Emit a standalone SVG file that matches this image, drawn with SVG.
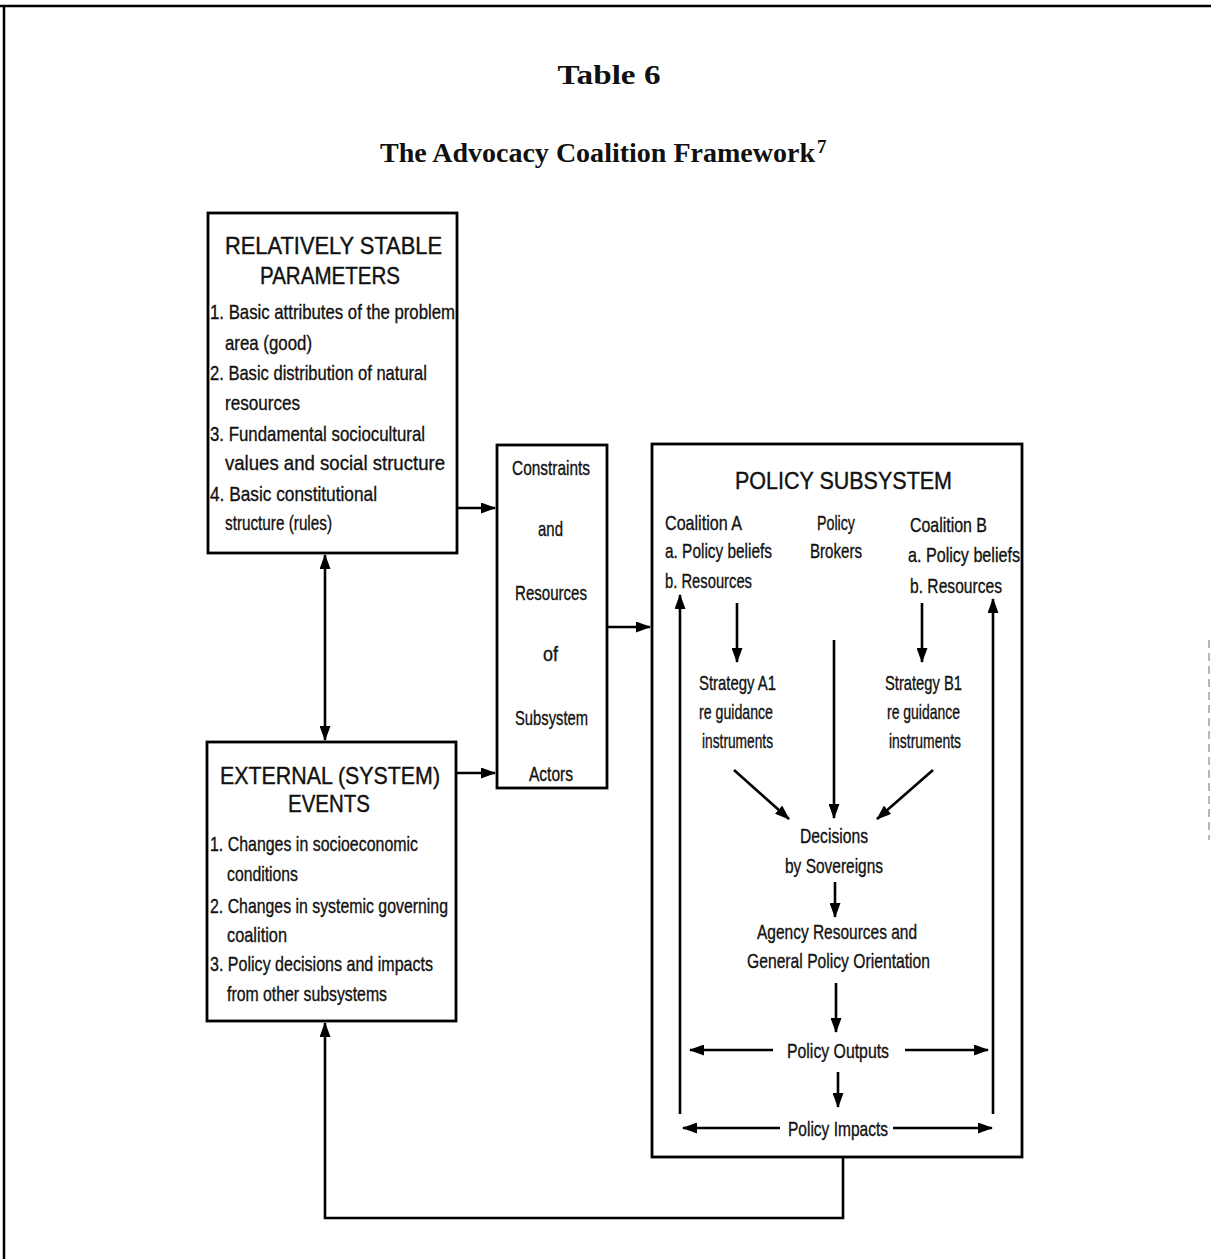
<svg xmlns="http://www.w3.org/2000/svg" width="1211" height="1259" viewBox="0 0 1211 1259">
<style>
.box{fill:none;stroke:#000;stroke-width:2.8}
.ln{fill:none;stroke:#000;stroke-width:2.6}
.t{font-family:"Liberation Sans Narrow","Liberation Sans",Arial,sans-serif;font-size:21px;fill:#111;stroke:#111;stroke-width:0.35}
.h{font-family:"Liberation Sans","Arial",sans-serif;font-size:24px;fill:#111;stroke:#111;stroke-width:0.4}
.ttl{font-family:"Liberation Serif","Times New Roman",serif;font-weight:bold;font-size:28px;fill:#111}
.c{text-anchor:middle}
</style>
<defs>
<marker id="ah" viewBox="0 0 15 11" refX="14" refY="5.5" markerWidth="15" markerHeight="11" markerUnits="userSpaceOnUse" orient="auto-start-reverse">
<path d="M0,0 L15,5.5 L0,11 z" fill="#000"/>
</marker>
</defs>
<rect width="1211" height="1259" fill="#fff"/>
<g id="frame">
<line x1="0" y1="6" x2="1211" y2="6" stroke="#000" stroke-width="2.5"/>
<line x1="4" y1="6" x2="4" y2="1259" stroke="#000" stroke-width="2.5"/>
<line x1="1209" y1="640" x2="1209" y2="840" stroke="#888" stroke-width="1.2" stroke-dasharray="8,5"/>
</g>
<g id="title">
<text class="ttl c" x="609" y="84" textLength="103" lengthAdjust="spacingAndGlyphs">Table 6</text>
<text class="ttl" x="380" y="162" textLength="435" lengthAdjust="spacingAndGlyphs">The Advocacy Coalition Framework</text>
<text class="ttl" x="817" y="153" style="font-size:19px">7</text>
</g>
<g id="stable-parameters">
<rect class="box" x="208" y="213" width="249" height="340"/>
<text class="h" x="225" y="254" textLength="217" lengthAdjust="spacingAndGlyphs">RELATIVELY STABLE</text>
<text class="h" x="260" y="284" textLength="140" lengthAdjust="spacingAndGlyphs">PARAMETERS</text>
<text class="t" x="210" y="319" textLength="245" lengthAdjust="spacingAndGlyphs">1. Basic attributes of the problem</text>
<text class="t" x="225" y="350" textLength="87" lengthAdjust="spacingAndGlyphs">area (good)</text>
<text class="t" x="210" y="380" textLength="217" lengthAdjust="spacingAndGlyphs">2. Basic distribution of natural</text>
<text class="t" x="225" y="410" textLength="75" lengthAdjust="spacingAndGlyphs">resources</text>
<text class="t" x="210" y="441" textLength="215" lengthAdjust="spacingAndGlyphs">3. Fundamental sociocultural</text>
<text class="t" x="225" y="470" textLength="220" lengthAdjust="spacingAndGlyphs">values and social structure</text>
<text class="t" x="210" y="501" textLength="167" lengthAdjust="spacingAndGlyphs">4. Basic constitutional</text>
<text class="t" x="225" y="530" textLength="107" lengthAdjust="spacingAndGlyphs">structure (rules)</text>
</g>
<g id="external-events">
<rect class="box" x="207" y="742" width="249" height="279"/>
<text class="h" x="220" y="784" textLength="220" lengthAdjust="spacingAndGlyphs">EXTERNAL (SYSTEM)</text>
<text class="h" x="288" y="812" textLength="82" lengthAdjust="spacingAndGlyphs">EVENTS</text>
<text class="t" x="210" y="851" textLength="208" lengthAdjust="spacingAndGlyphs">1. Changes in socioeconomic</text>
<text class="t" x="227" y="881" textLength="71" lengthAdjust="spacingAndGlyphs">conditions</text>
<text class="t" x="210" y="913" textLength="238" lengthAdjust="spacingAndGlyphs">2. Changes in systemic governing</text>
<text class="t" x="227" y="942" textLength="60" lengthAdjust="spacingAndGlyphs">coalition</text>
<text class="t" x="210" y="971" textLength="223" lengthAdjust="spacingAndGlyphs">3. Policy decisions and impacts</text>
<text class="t" x="227" y="1001" textLength="160" lengthAdjust="spacingAndGlyphs">from other subsystems</text>
</g>
<g id="constraints">
<rect class="box" x="497" y="445" width="110" height="343"/>
<text class="t" x="512" y="475" textLength="78" lengthAdjust="spacingAndGlyphs">Constraints</text>
<text class="t" x="538" y="536" textLength="25" lengthAdjust="spacingAndGlyphs">and</text>
<text class="t" x="515" y="600" textLength="72" lengthAdjust="spacingAndGlyphs">Resources</text>
<text class="t" x="543" y="661" textLength="15" lengthAdjust="spacingAndGlyphs">of</text>
<text class="t" x="515" y="725" textLength="73" lengthAdjust="spacingAndGlyphs">Subsystem</text>
<text class="t" x="529" y="781" textLength="44" lengthAdjust="spacingAndGlyphs">Actors</text>
</g>
<g id="policy-subsystem">
<rect class="box" x="652" y="444" width="370" height="713"/>
<text class="h" x="735" y="489" textLength="217" lengthAdjust="spacingAndGlyphs">POLICY SUBSYSTEM</text>
</g>
<g id="coalition-a">
<text class="t" x="665" y="530" textLength="77" lengthAdjust="spacingAndGlyphs">Coalition A</text>
<text class="t" x="665" y="558" textLength="107" lengthAdjust="spacingAndGlyphs">a. Policy beliefs</text>
<text class="t" x="665" y="588" textLength="87" lengthAdjust="spacingAndGlyphs">b. Resources</text>
</g>
<g id="policy-brokers">
<text class="t" x="817" y="530" textLength="38" lengthAdjust="spacingAndGlyphs">Policy</text>
<text class="t" x="810" y="558" textLength="52" lengthAdjust="spacingAndGlyphs">Brokers</text>
</g>
<g id="coalition-b">
<text class="t" x="910" y="532" textLength="77" lengthAdjust="spacingAndGlyphs">Coalition B</text>
<text class="t" x="908" y="562" textLength="112" lengthAdjust="spacingAndGlyphs">a. Policy beliefs</text>
<text class="t" x="910" y="593" textLength="92" lengthAdjust="spacingAndGlyphs">b. Resources</text>
</g>
<g id="strategy-a1">
<text class="t" x="699" y="690" textLength="77" lengthAdjust="spacingAndGlyphs">Strategy A1</text>
<text class="t" x="699" y="719" textLength="74" lengthAdjust="spacingAndGlyphs">re guidance</text>
<text class="t" x="702" y="748" textLength="71" lengthAdjust="spacingAndGlyphs">instruments</text>
</g>
<g id="strategy-b1">
<text class="t" x="885" y="690" textLength="77" lengthAdjust="spacingAndGlyphs">Strategy B1</text>
<text class="t" x="887" y="719" textLength="73" lengthAdjust="spacingAndGlyphs">re guidance</text>
<text class="t" x="889" y="748" textLength="72" lengthAdjust="spacingAndGlyphs">instruments</text>
</g>
<g id="decisions">
<text class="t" x="800" y="843" textLength="68" lengthAdjust="spacingAndGlyphs">Decisions</text>
<text class="t" x="785" y="873" textLength="98" lengthAdjust="spacingAndGlyphs">by Sovereigns</text>
</g>
<g id="agency">
<text class="t" x="757" y="939" textLength="160" lengthAdjust="spacingAndGlyphs">Agency Resources and</text>
<text class="t" x="747" y="968" textLength="183" lengthAdjust="spacingAndGlyphs">General Policy Orientation</text>
</g>
<g id="outputs">
<text class="t" x="787" y="1058" textLength="102" lengthAdjust="spacingAndGlyphs">Policy Outputs</text>
</g>
<g id="impacts">
<text class="t" x="788" y="1136" textLength="100" lengthAdjust="spacingAndGlyphs">Policy Impacts</text>
</g>
<g id="connectors" class="ln">
<line x1="325" y1="555" x2="325" y2="740" marker-start="url(#ah)" marker-end="url(#ah)"/>
<line x1="457" y1="508" x2="495" y2="508" marker-end="url(#ah)"/>
<line x1="456" y1="773" x2="495" y2="773" marker-end="url(#ah)"/>
<line x1="607" y1="627" x2="650" y2="627" marker-end="url(#ah)"/>
<line x1="737" y1="603" x2="737" y2="662" marker-end="url(#ah)"/>
<line x1="922" y1="603" x2="922" y2="662" marker-end="url(#ah)"/>
<line x1="834" y1="640" x2="834" y2="818" marker-end="url(#ah)"/>
<line x1="734" y1="770" x2="789" y2="819" marker-end="url(#ah)"/>
<line x1="933" y1="770" x2="877" y2="819" marker-end="url(#ah)"/>
<line x1="835" y1="882" x2="835" y2="917" marker-end="url(#ah)"/>
<line x1="836" y1="983" x2="836" y2="1032" marker-end="url(#ah)"/>
<line x1="773" y1="1050" x2="690" y2="1050" marker-end="url(#ah)"/>
<line x1="905" y1="1050" x2="988" y2="1050" marker-end="url(#ah)"/>
<line x1="838" y1="1072" x2="838" y2="1107" marker-end="url(#ah)"/>
<line x1="780" y1="1128" x2="683" y2="1128" marker-end="url(#ah)"/>
<line x1="893" y1="1128" x2="992" y2="1128" marker-end="url(#ah)"/>
<line x1="680" y1="1114" x2="680" y2="595" marker-end="url(#ah)"/>
<line x1="993" y1="1114" x2="993" y2="599" marker-end="url(#ah)"/>
<polyline points="843,1157 843,1218 325,1218 325,1023" marker-end="url(#ah)"/>
</g>
</svg>
